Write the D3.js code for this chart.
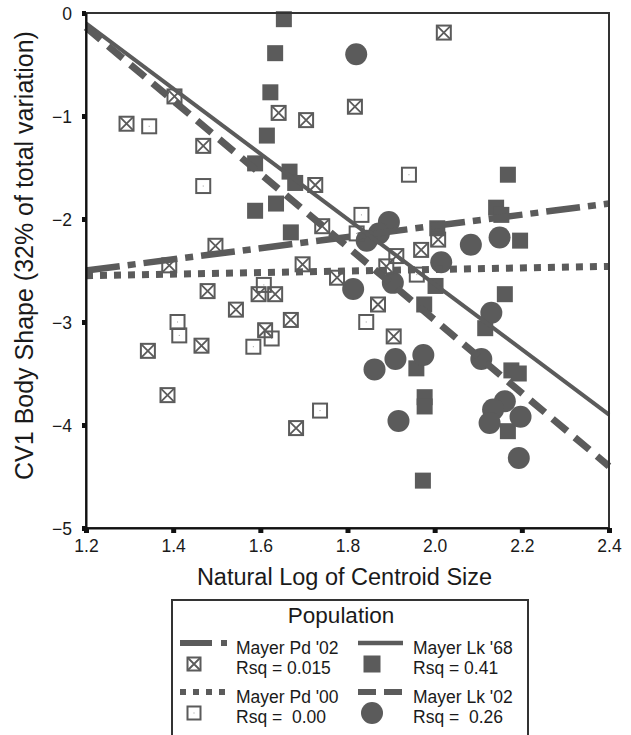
<!DOCTYPE html>
<html>
<head>
<meta charset="utf-8">
<script src="https://d3js.org/d3.v7.min.js"></script>
<style>
  html, body { margin: 0; padding: 0; background: #fff; }
  svg { display: block; font-family: "Liberation Sans", Arial, sans-serif; }
  text { white-space: pre; }
</style>
</head>
<body>
<div id="chart"></div>
<script>
/* ============================================================
   DATA
   ============================================================ */

const xTicks = [1.2, 1.4, 1.6, 1.8, 2.0, 2.2, 2.4];
const yTicks = [0, -1, -2, -3, -4, -5];

// Mayer Pd '02 (crossed squares)
const pd02X = [1.293, 1.403, 1.469, 1.642, 1.705, 1.726, 1.742, 1.497, 1.391, 1.697,
               2.021, 1.817, 2.008, 1.969, 1.912, 1.889, 1.776, 1.479, 1.596, 1.634,
               1.544, 1.670, 1.611, 1.342, 1.465, 1.387, 1.682, 1.870, 1.906];
const pd02Y = [-1.075, -0.81, -1.29, -0.97, -1.04, -1.67, -2.07, -2.26, -2.45, -2.44,
               -0.19, -0.91, -2.20, -2.30, -2.36, -2.46, -2.57, -2.70, -2.73, -2.73,
               -2.88, -2.98, -3.08, -3.28, -3.23, -3.71, -4.03, -2.83, -3.14];

// Mayer Pd '00 (open squares)
const pd00X = [1.345, 1.469, 1.941, 1.832, 1.821, 1.959, 1.608, 1.410, 1.414, 1.626,
               1.584, 1.737, 1.843];
const pd00Y = [-1.10, -1.68, -1.57, -1.96, -2.14, -2.54, -2.64, -3.00, -3.13, -3.16,
               -3.24, -3.86, -3.00];

// Mayer Lk '68 (filled squares)
const lk68X = [1.654, 1.634, 1.623, 1.615, 1.588, 1.667, 1.680, 1.588, 1.636, 1.670,
               2.168, 2.141, 2.153, 2.006, 2.196, 2.002, 2.161, 1.976, 2.116, 2.176,
               2.193, 1.958, 1.977, 1.977, 2.168, 1.973];
const lk68Y = [-0.06, -0.39, -0.77, -1.19, -1.46, -1.54, -1.65, -1.92, -1.85, -2.13,
               -1.57, -1.89, -1.96, -2.09, -2.21, -2.65, -2.73, -2.83, -3.06, -3.47,
               -3.50, -3.45, -3.73, -3.82, -4.06, -4.54];

// Mayer Lk '02 (filled circles)
const lk02X = [1.820, 1.895, 1.872, 1.844, 2.083, 2.149, 2.015, 1.813, 1.904, 2.130,
               2.107, 1.862, 1.910, 1.974, 1.917, 2.161, 2.134, 2.126, 2.197, 2.193];
const lk02Y = [-0.40, -2.03, -2.14, -2.21, -2.25, -2.18, -2.42, -2.68, -2.62, -2.91,
               -3.36, -3.46, -3.36, -3.32, -3.96, -3.77, -3.85, -3.98, -3.92, -4.32];

// fitted lines, value at x = 1.2 and x = 2.4
const fitX    = [1.2, 2.4];
const fitPd02 = [-2.50, -1.85];
const fitPd00 = [-2.55, -2.46];
const fitLk68 = [-0.10, -3.90];
const fitLk02 = [-0.14, -4.40];

const legendNames = ["Mayer Pd '02", "Mayer Lk '68", "Mayer Pd '00", "Mayer Lk '02"];
const legendRsq   = ["Rsq = 0.015", "Rsq = 0.41", "Rsq =  0.00", "Rsq =  0.26"];


/* ============================================================
   LAYOUT / STYLE
   ============================================================ */

const W = 631, H = 735;
const M = { left: 86, right: 609, top: 13, bottom: 528 };
const INK  = '#5b5b5b';
const AXIS = '#111';

const lineStyles = {
  pd02: { w: 6.5, dash: '34,8,8,8' },
  pd00: { w: 7,   dash: '7,7' },
  lk68: { w: 4,   dash: null },
  lk02: { w: 7,   dash: '19,10' },
};

const svg = d3.select('#chart').append('svg')
  .attr('width', W)
  .attr('height', H);

const x = d3.scaleLinear().domain([1.2, 2.4]).range([M.left, M.right]);
const y = d3.scaleLinear().domain([-5, 0]).range([M.bottom, M.top]);

/* ---------- markers ---------- */
function zip(xs, ys) { return xs.map((v, i) => ({ x: v, y: ys[i] })); }

const gPts = svg.append('g').attr('class', 'points');

function crossSquare(g, cx, cy, s) {
  const h = s / 2;
  g.append('rect')
    .attr('x', cx - h).attr('y', cy - h).attr('width', s).attr('height', s)
    .attr('fill', 'none').attr('stroke', INK).attr('stroke-width', 2);
  g.append('path')
    .attr('d', `M${cx - h},${cy - h}L${cx + h},${cy + h}M${cx + h},${cy - h}L${cx - h},${cy + h}`)
    .attr('stroke', INK).attr('stroke-width', 1.8);
}

function openSquare(g, cx, cy, s) {
  const h = s / 2;
  g.append('rect')
    .attr('x', cx - h).attr('y', cy - h).attr('width', s).attr('height', s)
    .attr('fill', 'none').attr('stroke', INK).attr('stroke-width', 2);
  g.append('rect')
    .attr('x', cx - 0.5).attr('y', cy - 0.5).attr('width', 1).attr('height', 1)
    .attr('fill', '#999');
}

function filledSquare(g, cx, cy, s) {
  g.append('rect')
    .attr('x', cx - s / 2).attr('y', cy - s / 2).attr('width', s).attr('height', s)
    .attr('fill', INK);
}

function dot(g, cx, cy, r) {
  g.append('circle').attr('cx', cx).attr('cy', cy).attr('r', r).attr('fill', INK);
}

zip(lk68X, lk68Y).forEach(d => filledSquare(gPts, x(d.x), y(d.y), 16));
zip(lk02X, lk02Y).forEach(d => dot(gPts, x(d.x), y(d.y), 11));
zip(pd00X, pd00Y).forEach(d => openSquare(gPts, x(d.x), y(d.y), 14));
zip(pd02X, pd02Y).forEach(d => crossSquare(gPts, x(d.x), y(d.y), 14));

/* ---------- fit lines ---------- */
const gFit = svg.append('g').attr('class', 'fits');
const fits = [
  { ys: fitPd02, st: lineStyles.pd02 },
  { ys: fitPd00, st: lineStyles.pd00 },
  { ys: fitLk68, st: lineStyles.lk68 },
  { ys: fitLk02, st: lineStyles.lk02 },
];
const lineGen = d3.line().x(d => x(d.x)).y(d => y(d.y));
fits.forEach(f => {
  gFit.append('path')
    .attr('d', lineGen(zip(fitX, f.ys)))
    .attr('fill', 'none')
    .attr('stroke', INK)
    .attr('stroke-width', f.st.w)
    .attr('stroke-dasharray', f.st.dash);
});

/* ---------- frame + axes ---------- */
svg.append('rect')
  .attr('x', M.left).attr('y', M.top)
  .attr('width', M.right - M.left).attr('height', M.bottom - M.top)
  .attr('fill', 'none').attr('stroke', '#333').attr('stroke-width', 2);

const xAxis = svg.append('g')
  .attr('transform', `translate(0,${M.bottom})`)
  .call(d3.axisBottom(x).tickValues(xTicks).tickFormat(d3.format('.1f'))
    .tickSize(5).tickSizeOuter(0).tickPadding(7));

const yAxis = svg.append('g')
  .attr('transform', `translate(${M.left},0)`)
  .call(d3.axisLeft(y).tickValues(yTicks).tickFormat(d3.format('d'))
    .tickSize(4).tickSizeOuter(0).tickPadding(10));

[xAxis, yAxis].forEach(a => {
  a.select('.domain').attr('stroke', AXIS).attr('stroke-width', 2);
  a.selectAll('.tick line').attr('stroke', AXIS).attr('stroke-width', 5);
  a.selectAll('.tick text')
    .attr('fill', '#1a1a1a')
    .style('font-size', '17.5px')
    .style('font-family', '"Liberation Sans", Arial, sans-serif');
});
yAxis.selectAll('.tick text').attr('dy', '0.36em');

svg.append('text')
  .attr('x', (M.left + M.right) / 2 - 3)
  .attr('y', 585)
  .attr('text-anchor', 'middle')
  .attr('fill', '#1a1a1a')
  .style('font-size', '23.5px')
  .text('Natural Log of Centroid Size');

svg.append('text')
  .attr('transform', `translate(33,${(M.top + M.bottom) / 2 - 15}) rotate(-90)`)
  .attr('text-anchor', 'middle')
  .attr('fill', '#1a1a1a')
  .style('font-size', '25px')
  .text('CV1 Body Shape (32% of total variation)');

/* ---------- legend ---------- */
const lg = svg.append('g').attr('class', 'legend');
lg.append('rect')
  .attr('x', 172).attr('y', 600).attr('width', 356).attr('height', 150)
  .attr('fill', 'none').attr('stroke', '#333').attr('stroke-width', 2);

lg.append('text')
  .attr('x', 341).attr('y', 623)
  .attr('text-anchor', 'middle')
  .attr('fill', '#1a1a1a')
  .style('font-size', '22.5px')
  .text('Population');

// columns: left at 180, right at 358
const cols = [
  { lx: 180, len: 47, tx: 236 },
  { lx: 358, len: 45, tx: 413 },
];
const rows = [643, 692];
const legendDash  = ['32,9,6,9', null, '6,7', '18,8'];
const legendWidth = [6, 4.5, 6, 6];
const legendMark  = [crossSquare, filledSquare, openSquare, dot];
const legendSize  = [13, 17, 13, 11];

legendNames.forEach((name, i) => {
  const c = cols[i % 2];
  const ry = rows[Math.floor(i / 2)];
  lg.append('line')
    .attr('x1', c.lx).attr('x2', c.lx + c.len)
    .attr('y1', ry).attr('y2', ry)
    .attr('stroke', INK)
    .attr('stroke-width', legendWidth[i])
    .attr('stroke-dasharray', legendDash[i]);
  legendMark[i](lg, c.lx + 14, ry + 21, legendSize[i]);

  lg.append('text')
    .attr('x', c.tx).attr('y', ry + 11)
    .attr('fill', '#1a1a1a')
    .style('font-size', '17.5px')
    .text(name);
  lg.append('text')
    .attr('x', c.tx).attr('y', ry + 30.5)
    .attr('fill', '#1a1a1a')
    .style('font-size', '17.5px')
    .text(legendRsq[i]);
});
</script>
</body>
</html>
